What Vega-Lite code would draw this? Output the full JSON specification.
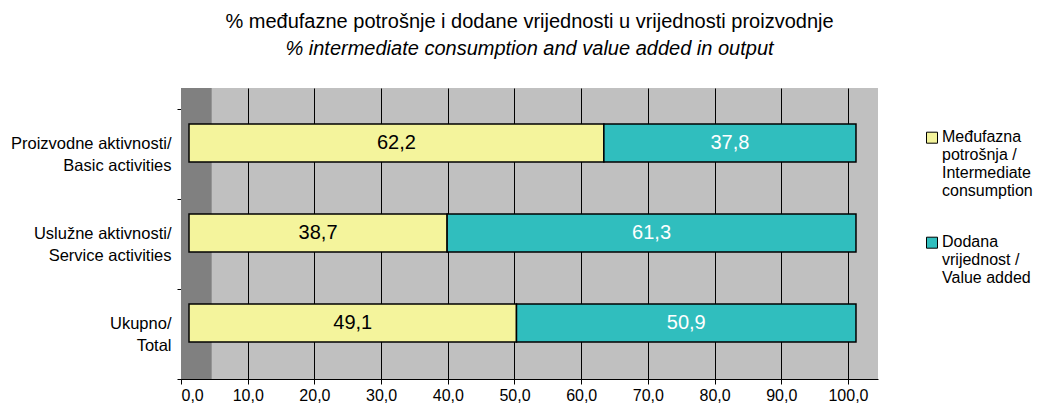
{
  "$schema": "https://vega.github.io/schema/vega-lite/v6.json",
  "width": 697,
  "height": 291,
  "autosize": {"type": "none"},
  "padding": {"left": 181, "top": 88, "right": 159, "bottom": 27},
  "background": "white",
  "title": {
    "text": "% međufazne potrošnje i dodane vrijednosti u vrijednosti proizvodnje",
    "subtitle": "% intermediate consumption and value added in output",
    "font": "Liberation Sans",
    "fontSize": 20,
    "fontWeight": "normal",
    "color": "black",
    "subtitleFont": "Liberation Sans",
    "subtitleFontSize": 20,
    "subtitleFontStyle": "italic",
    "subtitleColor": "black",
    "subtitlePadding": 7,
    "anchor": "middle",
    "frame": "group",
    "dx": 0,
    "offset": 21
  },
  "data": {
    "values": [
      {"cat": "Proizvodne aktivnosti/\nBasic activities", "s": "Međufazna\npotrošnja /\nIntermediate\nconsumption", "v": 62.2, "o": 1},
      {"cat": "Proizvodne aktivnosti/\nBasic activities", "s": "Dodana\nvrijednost /\nValue added", "v": 37.8, "o": 2},
      {"cat": "Uslužne aktivnosti/\nService activities", "s": "Međufazna\npotrošnja /\nIntermediate\nconsumption", "v": 38.7, "o": 1},
      {"cat": "Uslužne aktivnosti/\nService activities", "s": "Dodana\nvrijednost /\nValue added", "v": 61.3, "o": 2},
      {"cat": "Ukupno/\nTotal", "s": "Međufazna\npotrošnja /\nIntermediate\nconsumption", "v": 49.1, "o": 1},
      {"cat": "Ukupno/\nTotal", "s": "Dodana\nvrijednost /\nValue added", "v": 50.9, "o": 2}
    ]
  },
  "layer": [
    {
      "data": {"values": [{"wall": "side"}]},
      "mark": {"type": "rect", "color": "#808080"},
      "encoding": {
        "x": {"datum": 0, "type": "quantitative"},
        "x2": {"datum": 4.6}
      }
    },
    {
      "mark": {"type": "bar", "stroke": "black", "strokeWidth": 1.5, "size": 38, "xOffset": 8, "yOffset": -11},
      "encoding": {
        "y": {
          "field": "cat",
          "type": "nominal",
          "sort": null,
          "scale": {"paddingInner": 0, "paddingOuter": 0.11667, "align": 1},
          "axis": {
            "title": null,
            "labelExpr": "split(datum.label, '\\n')",
            "labelFontSize": 16.5,
            "labelColor": "black",
            "labelLineHeight": 22,
            "labelOffset": -11,
            "labelPadding": 6,
            "labelLimit": 0,
            "tickBand": "extent",
            "tickSize": 4,
            "tickColor": "black",
            "domainColor": "black",
            "grid": false
          }
        },
        "x": {
          "field": "v",
          "type": "quantitative",
          "stack": "zero",
          "scale": {"domain": [0, 104.5], "nice": false, "zero": true},
          "axis": {
            "title": null,
            "values": [0, 10, 20, 30, 40, 50, 60, 70, 80, 90, 100],
            "format": ".1f",
            "labelFontSize": 16,
            "labelColor": "black",
            "labelPadding": 3,
            "tickSize": 5,
            "tickColor": "black",
            "domainColor": "black",
            "grid": true,
            "gridColor": "black",
            "gridOpacity": 1
          }
        },
        "color": {
          "field": "s",
          "type": "nominal",
          "scale": {
            "domain": ["Međufazna\npotrošnja /\nIntermediate\nconsumption", "Dodana\nvrijednost /\nValue added"],
            "range": ["#f4f49c", "#30bebe"]
          },
          "legend": {
            "title": null,
            "orient": "none",
            "legendX": 743,
            "legendY": 33,
            "labelExpr": "split(datum.label, '\\n')",
            "labelFontSize": 16,
            "labelColor": "black",
            "labelLineHeight": 19,
            "labelBaseline": "top",
            "labelLimit": 0,
            "labelOffset": 2,
            "symbolType": "M-1,0.58H1V2.58H-1Z",
            "symbolSize": 121,
            "symbolStrokeColor": "black",
            "symbolStrokeWidth": 1,
            "symbolOpacity": 1,
            "rowPadding": 27
          }
        },
        "order": {"field": "o", "type": "quantitative"}
      }
    },
    {
      "transform": [
        {"stack": "v", "groupby": ["cat"], "sort": [{"field": "o"}], "as": ["v0", "v1"]},
        {"calculate": "(datum.v0 + datum.v1) / 2", "as": "mid"}
      ],
      "mark": {"type": "text", "fontSize": 20, "baseline": "middle", "align": "center", "xOffset": 8, "yOffset": -11},
      "encoding": {
        "y": {"field": "cat", "type": "nominal", "sort": null},
        "x": {"field": "mid", "type": "quantitative"},
        "text": {"field": "v", "type": "quantitative", "format": ".1f"},
        "color": {
          "condition": {"test": "datum.o == 2", "value": "white"},
          "value": "black"
        }
      }
    }
  ],
  "config": {
    "font": "Liberation Sans",
    "view": {"fill": "#c0c0c0", "stroke": null},
    "locale": {
      "number": {"decimal": ",", "thousands": ".", "grouping": [3], "currency": ["", " kn"]}
    }
  }
}
